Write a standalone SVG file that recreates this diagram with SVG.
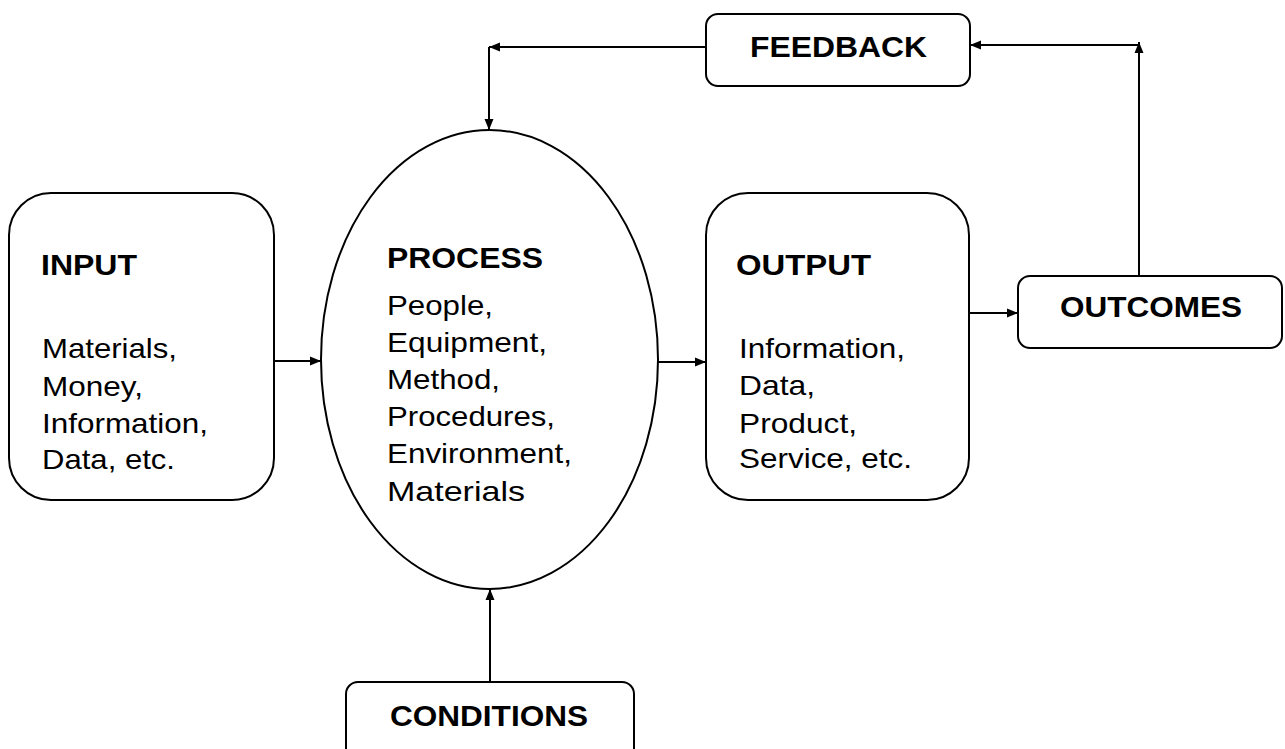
<svg xmlns="http://www.w3.org/2000/svg" width="1285" height="749" viewBox="0 0 1285 749">
<style>
.box{fill:#fff;stroke:#000;stroke-width:2}
.t{font-family:"Liberation Sans",Arial,sans-serif;font-size:28px;fill:#000}
.b{font-family:"Liberation Sans",Arial,sans-serif;font-size:29px;font-weight:bold;fill:#000}
.c{text-anchor:middle}
.ln{fill:none;stroke:#000;stroke-width:2}
</style>
<defs>
<marker id="ah" markerUnits="userSpaceOnUse" markerWidth="12" markerHeight="10" refX="11" refY="5" orient="auto">
<path d="M0,0.5 L11,5 L0,9.5 Z" fill="#000"/>
</marker>
</defs>
<rect width="1285" height="749" fill="#fff"/>
<g id="connectors">
<line class="ln" x1="274" y1="361" x2="321" y2="361" marker-end="url(#ah)"/>
<line class="ln" x1="658" y1="362" x2="706" y2="362" marker-end="url(#ah)"/>
<line class="ln" x1="969" y1="313" x2="1018" y2="313" marker-end="url(#ah)"/>
<line class="ln" x1="1139" y1="276" x2="1139" y2="42" marker-end="url(#ah)"/>
<line class="ln" x1="1139" y1="45" x2="970" y2="45" marker-end="url(#ah)"/>
<line class="ln" x1="706" y1="47" x2="489" y2="47" marker-end="url(#ah)"/>
<line class="ln" x1="489" y1="47" x2="489" y2="130" marker-end="url(#ah)"/>
<line class="ln" x1="490" y1="682" x2="490" y2="589" marker-end="url(#ah)"/>
</g>
<g id="input">
<rect class="box" x="9" y="193" width="265" height="307" rx="42" ry="42"/>
<text class="b" x="41" y="275" textLength="96" lengthAdjust="spacingAndGlyphs">INPUT</text>
<text class="t" x="42" y="358" textLength="135" lengthAdjust="spacingAndGlyphs">Materials,</text>
<text class="t" x="42" y="396" textLength="101" lengthAdjust="spacingAndGlyphs">Money,</text>
<text class="t" x="42" y="433" textLength="166" lengthAdjust="spacingAndGlyphs">Information,</text>
<text class="t" x="42" y="469" textLength="133" lengthAdjust="spacingAndGlyphs">Data, etc.</text>
</g>
<g id="process">
<ellipse class="box" cx="489.5" cy="359.5" rx="168.5" ry="229.5"/>
<text class="b" x="387" y="268" textLength="156" lengthAdjust="spacingAndGlyphs">PROCESS</text>
<text class="t" x="387" y="315" textLength="106" lengthAdjust="spacingAndGlyphs">People,</text>
<text class="t" x="387" y="352" textLength="160" lengthAdjust="spacingAndGlyphs">Equipment,</text>
<text class="t" x="387" y="389" textLength="113" lengthAdjust="spacingAndGlyphs">Method,</text>
<text class="t" x="387" y="426" textLength="168" lengthAdjust="spacingAndGlyphs">Procedures,</text>
<text class="t" x="387" y="463" textLength="185" lengthAdjust="spacingAndGlyphs">Environment,</text>
<text class="t" x="387" y="501" textLength="138" lengthAdjust="spacingAndGlyphs">Materials</text>
</g>
<g id="output">
<rect class="box" x="706" y="193" width="263" height="307" rx="42" ry="42"/>
<text class="b" x="736" y="275" textLength="135" lengthAdjust="spacingAndGlyphs">OUTPUT</text>
<text class="t" x="739" y="358" textLength="166" lengthAdjust="spacingAndGlyphs">Information,</text>
<text class="t" x="739" y="395" textLength="76" lengthAdjust="spacingAndGlyphs">Data,</text>
<text class="t" x="739" y="433" textLength="118" lengthAdjust="spacingAndGlyphs">Product,</text>
<text class="t" x="739" y="468" textLength="173" lengthAdjust="spacingAndGlyphs">Service, etc.</text>
</g>
<g id="feedback">
<rect class="box" x="706" y="14" width="264" height="72" rx="12" ry="12"/>
<text class="b c" x="838.5" y="57" textLength="177" lengthAdjust="spacingAndGlyphs">FEEDBACK</text>
</g>
<g id="outcomes">
<rect class="box" x="1018" y="276" width="264" height="72" rx="12" ry="12"/>
<text class="b c" x="1151" y="317" textLength="182" lengthAdjust="spacingAndGlyphs">OUTCOMES</text>
</g>
<g id="conditions">
<rect class="box" x="346" y="682" width="288" height="90" rx="12" ry="12"/>
<text class="b c" x="489" y="726" textLength="198" lengthAdjust="spacingAndGlyphs">CONDITIONS</text>
</g>
</svg>
